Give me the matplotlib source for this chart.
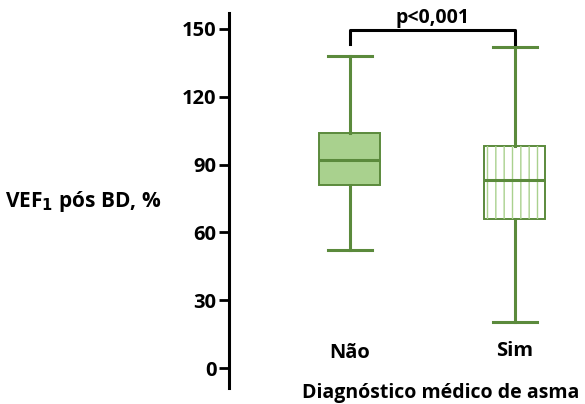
import matplotlib.pyplot as plt

plt.rcParams['font.family'] = ['Open Sans', 'DejaVu Sans']
plt.rcParams['font.weight'] = 'bold'

# dados
grupos = ['Não', 'Sim']
q1 = [81, 66]
mediana = [92, 83]
q3 = [104, 98]
min_whisker = [52, 20.5]
max_whisker = [138, 142]
p_texto = 'p<0,001'

verde = '#5b8a3c'
verde_claro = '#a9d18e'

fig = plt.figure(figsize=(5.85, 4.04), dpi=100)
ax = fig.add_axes([229 / 585, 1 - 388 / 404, (575 - 229) / 585, (388 - 13) / 404])

stats = []
for i in range(len(grupos)):
    stats.append({'label': grupos[i], 'q1': q1[i], 'med': mediana[i], 'q3': q3[i],
                  'whislo': min_whisker[i], 'whishi': max_whisker[i], 'fliers': []})

bp = ax.bxp(stats, positions=[1, 2], widths=0.37, capwidths=0.27, patch_artist=True,
            showfliers=False,
            boxprops=dict(linewidth=1.4, edgecolor=verde),
            medianprops=dict(color=verde, linewidth=2.2),
            whiskerprops=dict(color=verde, linewidth=2.2),
            capprops=dict(color=verde, linewidth=2.2))

bp['boxes'][0].set_facecolor(verde_claro)
caixa = bp['boxes'][1]
caixa.set_facecolor('white')
# hachurado vertical em verde claro
plt.rcParams['hatch.linewidth'] = 1.0
hatch_box = plt.Polygon(caixa.get_path().vertices, closed=True, facecolor='none',
                        edgecolor=verde_claro, hatch='||', linewidth=0, zorder=caixa.get_zorder() + 0.1)
ax.add_patch(hatch_box)
for m in bp['medians']:
    m.set_zorder(5)

# colchete de significancia
ax.plot([1, 1, 2, 2], [143.5, 149.5, 149.5, 143.5], color='black', linewidth=2.2, clip_on=False)
ax.text(1.5, 155, p_texto, ha='center', va='center', fontsize=14, fontweight='bold', clip_on=False)

ax.set_xlim(0.267, 2.364)
ax.set_ylim(-8.8, 157)
ax.set_yticks([0, 30, 60, 90, 120, 150])
ax.tick_params(axis='y', labelsize=14.5, width=2, length=7, direction='out', pad=2)
ax.set_xticks([])

# rotulos dos grupos dentro do eixo
for pos, g, yy in zip([1, 2], grupos, [6.5, 7.5]):
    ax.text(pos, yy, g, ha='center', va='center', fontsize=14.5, fontweight='bold')

for s in ['top', 'right', 'bottom']:
    ax.spines[s].set_visible(False)
ax.spines['left'].set_linewidth(2.2)

fig.text(441 / 585, 1 - 393 / 404, 'Diagnóstico médico de asma', fontsize=14,
         fontweight='bold', ha='center', va='center')
fig.text(5 / 585, 1 - 201 / 404, 'VEF$_\\mathbf{1}$ pós BD, %', fontsize=15, fontweight='bold',
         va='center', ha='left')

fig.savefig('out.png', dpi=100)
